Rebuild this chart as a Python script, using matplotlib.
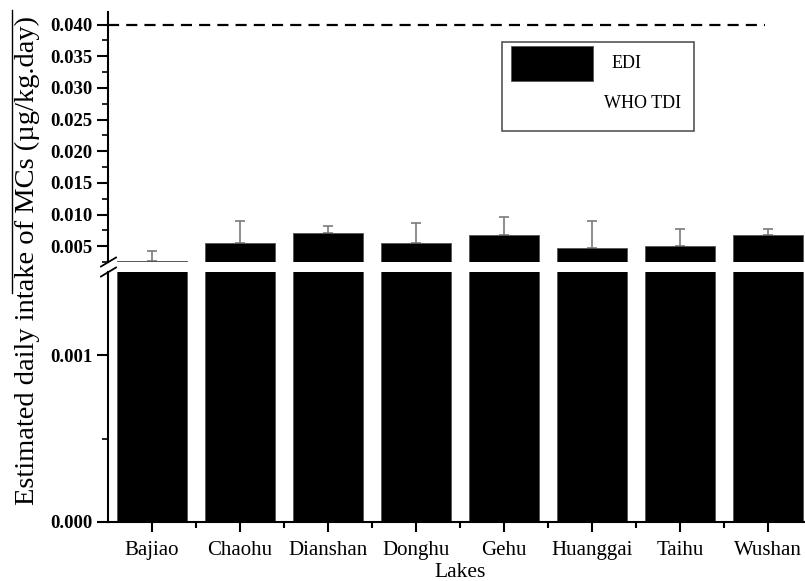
import numpy as np
import matplotlib
matplotlib.use("Agg")
import matplotlib.pyplot as plt
from matplotlib.lines import Line2D
from matplotlib.patches import Rectangle
from matplotlib.ticker import MultipleLocator, FixedLocator, FormatStrFormatter

lakes = ["Bajiao", "Chaohu", "Dianshan", "Donghu", "Gehu", "Huanggai", "Taihu", "Wushan"]
edi = [0.00268, 0.00558, 0.0071, 0.00552, 0.00669, 0.00473, 0.00505, 0.00669]
err = [0.00162, 0.00342, 0.0011, 0.00311, 0.00293, 0.00417, 0.00274, 0.00099]
who_tdi = 0.040

plt.rcParams["font.family"] = ["Liberation Serif", "DejaVu Serif"]

W, H = 805, 581
fig = plt.figure(figsize=(W / 100, H / 100), dpi=100)

def box(x0, y0, x1, y1):
    # pixel box (top-left origin) -> figure fraction rect
    return [x0 / W, 1 - y1 / H, (x1 - x0) / W, (y1 - y0) / H]

ax_top = fig.add_axes(box(108, 12, 812, 262))
ax_bot = fig.add_axes(box(108, 272, 812, 522))

x = np.arange(len(lakes))
for ax in (ax_top, ax_bot):
    ax.bar(x, edi, width=0.8, color="black", edgecolor="#555555", linewidth=0.6, zorder=2)
    ax.errorbar(x, edi, yerr=[np.zeros(len(err)), err], fmt="none", ecolor="#7a7a7a",
                elinewidth=1.2, capsize=3.5, capthick=1.2, zorder=1)
    ax.set_xlim(-0.5, 7.5)
    for s in ("top", "right"):
        ax.spines[s].set_visible(False)
    ax.spines["left"].set_linewidth(1.5)
    ax.tick_params(axis="y", which="major", direction="out", length=8, width=1.5,
                   labelsize=13.5, pad=3)
    ax.tick_params(axis="y", which="minor", direction="out", length=4.5, width=1.2)

# who tdi reference line
ax_top.plot([-0.5, 6.97], [who_tdi, who_tdi], color="black", ls=(0, (5, 3.2)), lw=1.6)

ax_top.set_ylim(0.0025, 0.042)
ax_top.yaxis.set_major_locator(FixedLocator([0.005, 0.010, 0.015, 0.020, 0.025,
                                             0.030, 0.035, 0.040]))
ax_top.yaxis.set_minor_locator(MultipleLocator(0.0025))
ax_top.yaxis.set_major_formatter(FormatStrFormatter("%.3f"))
ax_top.spines["bottom"].set_visible(False)
ax_top.set_xticks([])

ax_bot.set_ylim(0, 0.0015)
ax_bot.yaxis.set_major_locator(FixedLocator([0.0, 0.001]))
ax_bot.yaxis.set_minor_locator(FixedLocator([0.0005]))
ax_bot.yaxis.set_major_formatter(FormatStrFormatter("%.3f"))
ax_bot.spines["bottom"].set_linewidth(1.5)
ax_bot.set_xticks(x)
ax_bot.set_xticklabels(lakes, fontsize=15)
ax_bot.xaxis.set_minor_locator(FixedLocator(x + 0.5))
ax_bot.tick_params(axis="x", which="major", direction="out", length=7, width=1.5, pad=7)
ax_bot.tick_params(axis="x", which="minor", direction="out", length=4.5, width=1.5)
ax_bot.set_xlabel("Lakes", fontsize=15.5, labelpad=2)

for ax in (ax_top, ax_bot):
    for lab in ax.get_yticklabels():
        lab.set_fontweight("bold")

# break marks on the left spine
for yc in (262, 272):
    fig.add_artist(Line2D([101 / W, 116 / W], [1 - (yc + 4.5) / H, 1 - (yc - 4.5) / H],
                          color="black", lw=1.3))

fig.text(27 / W, 1 - 261 / H, "Estimated daily intake of MCs (\u00b5g/kg.day)",
         rotation=90, ha="center", va="center", fontsize=20.5)
fig.add_artist(Line2D([12 / W, 12 / W], [1 - 10 / H, 1 - 293 / H], color="black", lw=1))

# legend box
fr = box(502, 42, 694, 131)
fig.add_artist(Rectangle((fr[0], fr[1]), fr[2], fr[3], transform=fig.transFigure,
                         facecolor="white", edgecolor="#555555", lw=1.2))
pr = box(511, 46, 593, 81)
fig.add_artist(Rectangle((pr[0], pr[1]), pr[2], pr[3], transform=fig.transFigure,
                         facecolor="black", edgecolor="#555555", lw=0.6))
fig.text(612 / W, 1 - 64 / H, "EDI", fontsize=13, va="center")
fig.text(604 / W, 1 - 104 / H, "WHO TDI", fontsize=13, va="center")

fig.savefig("out.png", dpi=100)
